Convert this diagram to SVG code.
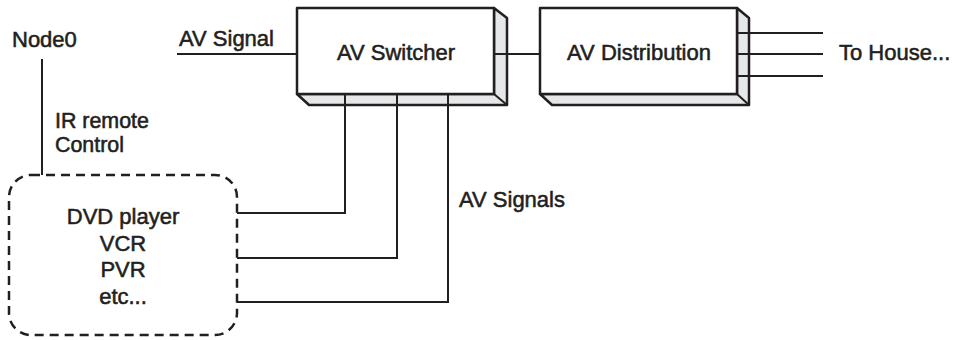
<svg xmlns="http://www.w3.org/2000/svg" width="954" height="340" viewBox="0 0 954 340">
<style>
text{font-family:"Liberation Sans",Arial,sans-serif;font-size:22px;fill:#231f20;stroke:#231f20;stroke-width:0.55}
text.ir{font-size:21.4px}
.face{fill:#fff;stroke:#231f20;stroke-width:2.5;stroke-linejoin:round}
.side{fill:#e6e7e8;stroke:#231f20;stroke-width:2.5;stroke-linejoin:round}
.edge{fill:none;stroke:#231f20;stroke-width:2}
.wire{fill:none;stroke:#231f20;stroke-width:2}
.dash{fill:none;stroke:#231f20;stroke-width:2.5;stroke-dasharray:9 6}
</style>
<rect width="954" height="340" fill="#fff"/>
<g id="connectors">
<line class="wire" x1="42" y1="59" x2="42" y2="175"/>
<line class="wire" x1="177" y1="54" x2="297" y2="54"/>
<line class="wire" x1="494" y1="54" x2="540" y2="54"/>
<line class="wire" x1="737" y1="33" x2="823" y2="33"/>
<line class="wire" x1="737" y1="54" x2="823" y2="54"/>
<line class="wire" x1="737" y1="76" x2="823" y2="76"/>
<polyline class="wire" points="345,94 345,213 237,213"/>
<polyline class="wire" points="397,94 397,258 237,258"/>
<polyline class="wire" points="448,94 448,302 237,302"/>
</g>
<g id="switcher">
<polygon class="side" points="494,8 507,18 507,105 309,105 297,94 494,94"/>
<line class="edge" x1="494" y1="94" x2="507" y2="105"/>
<rect class="face" x="297" y="8" width="197" height="86"/>
<line class="wire" x1="494" y1="54" x2="507" y2="54"/>
<line class="wire" x1="345" y1="94" x2="345" y2="105"/>
<line class="wire" x1="397" y1="94" x2="397" y2="105"/>
<line class="wire" x1="448" y1="94" x2="448" y2="105"/>
<text x="396" y="60" text-anchor="middle">AV Switcher</text>
</g>
<g id="distribution">
<polygon class="side" points="737,8 749,18 749,105 552,105 540,94 737,94"/>
<line class="edge" x1="737" y1="94" x2="749" y2="105"/>
<rect class="face" x="540" y="8" width="197" height="86"/>
<line class="wire" x1="737" y1="33" x2="749" y2="33"/>
<line class="wire" x1="737" y1="54" x2="749" y2="54"/>
<line class="wire" x1="737" y1="76" x2="749" y2="76"/>
<text x="639" y="60" text-anchor="middle">AV Distribution</text>
</g>
<g id="sources">
<rect class="dash" x="9" y="175" width="228" height="160" rx="22" ry="22"/>
<text x="123" y="224" text-anchor="middle">DVD player</text>
<text x="123" y="251" text-anchor="middle">VCR</text>
<text x="123" y="277" text-anchor="middle">PVR</text>
<text x="123" y="304" text-anchor="middle">etc...</text>
</g>
<g id="node0">
<text x="12" y="47">Node0</text>
</g>
<g id="labels">
<text x="179" y="46">AV Signal</text>
<text class="ir" x="55" y="128">IR remote</text>
<text class="ir" x="55" y="152">Control</text>
<text x="459" y="207">AV Signals</text>
<text x="839" y="60">To House...</text>
</g>
</svg>
